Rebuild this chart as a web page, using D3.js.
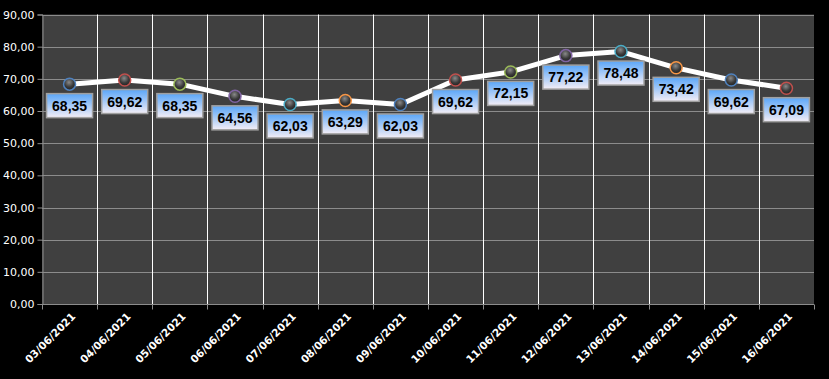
<!DOCTYPE html>
<html><head><meta charset="utf-8">
<script src="https://cdn.jsdelivr.net/npm/d3@7"></script>
<style>html,body{margin:0;padding:0;background:#000;}svg{display:block;}</style>
</head><body>
<script>
const categories = ["03/06/2021","04/06/2021","05/06/2021","06/06/2021","07/06/2021","08/06/2021","09/06/2021","10/06/2021","11/06/2021","12/06/2021","13/06/2021","14/06/2021","15/06/2021","16/06/2021"];
const values = [68.35,69.62,68.35,64.56,62.03,63.29,62.03,69.62,72.15,77.22,78.48,73.42,69.62,67.09];
const yTicks = [0,10,20,30,40,50,60,70,80,90];
const markerColors = ["#4F81BD","#C0504D","#9BBB59","#8064A2","#4BACC6","#F79646"];

const W=829,H=379;
const m={l:42,r:15,t:14.5,b:75};
const svg=d3.select("body").append("svg").attr("width",W).attr("height",H);
const defs=svg.append("defs");
const lg=defs.append("linearGradient").attr("id","lbl").attr("x1",0).attr("y1",0).attr("x2",0).attr("y2",1);
lg.append("stop").attr("offset","0%").attr("stop-color","#5aa6f8");
lg.append("stop").attr("offset","100%").attr("stop-color","#f4eef6");
const rg=defs.append("radialGradient").attr("id","mk").attr("cx","45%").attr("cy","35%").attr("r","65%");
rg.append("stop").attr("offset","0%").attr("stop-color","#8a8a8a");
rg.append("stop").attr("offset","60%").attr("stop-color","#3a3a3a");
rg.append("stop").attr("offset","100%").attr("stop-color","#222");

const x=d3.scaleBand().domain(categories).range([m.l,W-m.r]).padding(0);
const y=d3.scaleLinear().domain([0,90]).range([H-m.b,m.t]);

svg.append("rect").attr("x",m.l).attr("y",y(90)).attr("width",W-m.r-m.l).attr("height",y(0)-y(90)).attr("fill","#404040");

// horizontal grid
svg.append("g").selectAll("line").data(yTicks).join("line")
  .attr("x1",m.l).attr("x2",W-m.r).attr("y1",d=>Math.round(y(d))+0.5).attr("y2",d=>Math.round(y(d))+0.5)
  .attr("stroke","#8c8c8c").attr("stroke-width",1);
// vertical grid
svg.append("g").selectAll("line").data(categories.slice(1)).join("line")
  .attr("x1",d=>Math.round(x(d))+0.5).attr("x2",d=>Math.round(x(d))+0.5).attr("y1",y(90)).attr("y2",y(0))
  .attr("stroke","#ffffff").attr("stroke-width",1);

// y axis
const ya=svg.append("g").attr("transform",`translate(${m.l+0.5},0)`)
  .call(d3.axisLeft(y).tickValues(yTicks).tickSize(5).tickFormat(d=>d3.format(".2f")(d).replace(".",",")));
ya.select(".domain").attr("stroke","#8c8c8c");
ya.selectAll(".tick line").attr("stroke","#8c8c8c");
ya.selectAll("text").attr("fill","#fff").attr("font-family","DejaVu Sans").attr("font-size","11px").attr("x",-8);

// x axis
const xa=svg.append("g").attr("transform",`translate(0,${Math.round(y(0))+0.5})`);
const bounds=categories.map(c=>x(c)).concat([x(categories[categories.length-1])+x.bandwidth()]);
xa.append("line").attr("x1",m.l).attr("x2",W-m.r).attr("stroke","#8c8c8c");
xa.selectAll(".tk").data(bounds).join("line").attr("class","tk")
  .attr("x1",d=>Math.round(d)+0.5).attr("x2",d=>Math.round(d)+0.5).attr("y1",0).attr("y2",5).attr("stroke","#8c8c8c");
xa.selectAll("text").data(categories).join("text")
  .attr("transform",d=>`translate(${x(d)+x.bandwidth()/2+4},${10}) rotate(-45)`)
  .attr("text-anchor","end").attr("dy","0.35em")
  .attr("fill","#fff").attr("font-family","DejaVu Sans").attr("font-size","10.5px").attr("font-weight","bold")
  .text(d=>d);

// line
const pts=categories.map((c,i)=>[x(c)+x.bandwidth()/2,y(values[i])]);
svg.append("path").attr("d",d3.line()(pts))
  .attr("fill","none").attr("stroke","#fff").attr("stroke-width",5).attr("stroke-linejoin","round");

// markers
svg.append("g").selectAll("circle").data(pts).join("circle")
  .attr("cx",d=>d[0]).attr("cy",d=>d[1]).attr("r",6)
  .attr("fill","url(#mk)").attr("stroke",(d,i)=>markerColors[i%markerColors.length]).attr("stroke-width",1.5);

// labels
const lab=svg.append("g").selectAll("g").data(values).join("g")
  .attr("transform",(d,i)=>`translate(${pts[i][0]},${pts[i][1]+9.5})`);
lab.append("rect").attr("x",-23).attr("y",0).attr("width",46).attr("height",24)
  .attr("fill","url(#lbl)").attr("stroke","#a0a0a0").attr("stroke-width",1.5);
lab.append("text").attr("x",0).attr("y",12).attr("dy","0.36em").attr("text-anchor","middle")
  .attr("font-family","Liberation Sans").attr("font-weight","bold").attr("font-size","14px").attr("fill","#000")
  .text(d=>d3.format(".2f")(d).replace(".",","));
</script>
</body></html>
